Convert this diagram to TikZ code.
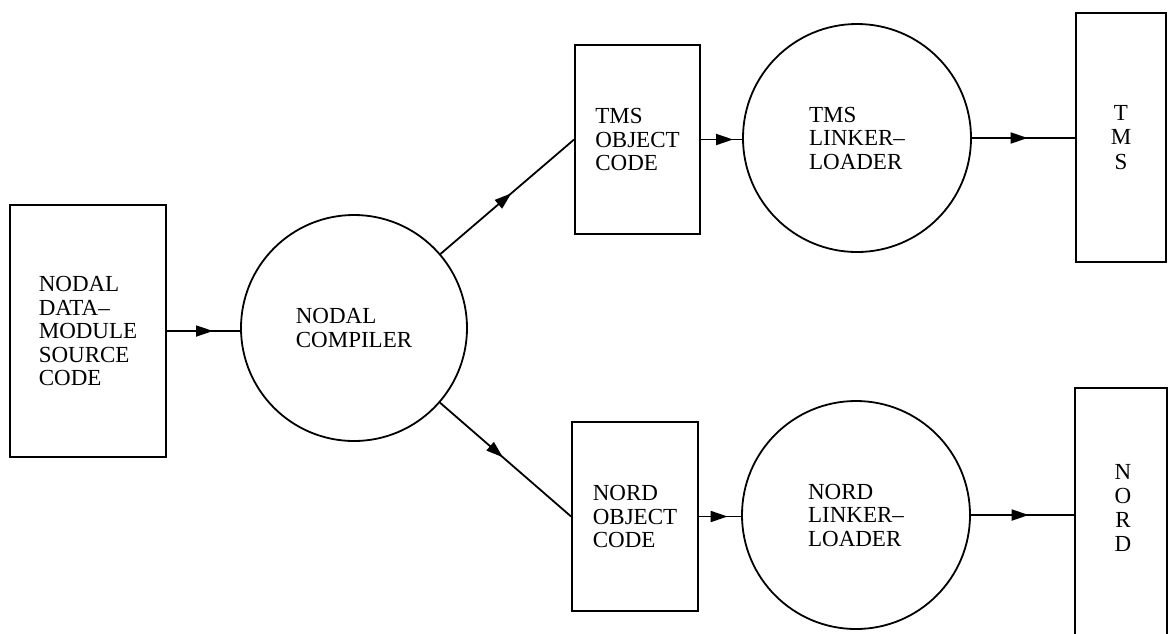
\documentclass[tikz,border=0pt]{standalone}
\usepackage{fontspec}
\setmainfont{Liberation Serif}
\usetikzlibrary{arrows.meta,decorations.markings}
\tikzset{
  box/.style={draw,line width=1.8pt,rectangle,inner sep=0pt},
  proc/.style={draw,line width=1.8pt,circle,inner sep=0pt},
  lbl/.style={align=left,font=\fontsize{23}{23.5}\selectfont},
  vlbl/.style={align=center,font=\fontsize{23}{24.3}\selectfont},
  conn/.style={line width=1.8pt},
  arr/.style={postaction={decorate},decoration={markings,
     mark=at position #1 with {\arrow{Triangle[length=17pt,width=11pt]}}}}
}
\begin{document}
\begin{tikzpicture}[x=1pt,y=-1pt]
\useasboundingbox (0,0) rectangle (1169,633);
\clip (0,0) rectangle (1169,633);
\node[box,minimum width=156pt,minimum height=252pt,lbl] (src) at (88,331)
  {NODAL\\DATA--\\MODULE\\SOURCE\\CODE};
\node[proc,minimum size=226pt,lbl] (comp) at (354,328) {NODAL\\COMPILER};
\node[box,minimum width=125pt,minimum height=189pt,lbl] (tmsobj) at (637.5,139.5)
  {TMS\\OBJECT\\CODE};
\node[proc,minimum size=228pt,lbl] (tmslink) at (857,138) {TMS\\LINKER--\\LOADER};
\node[box,minimum width=90pt,minimum height=249pt,vlbl] (tmsbox) at (1121,137.5)
  {T\\M\\S};
\node[box,minimum width=126pt,minimum height=189pt,lbl] (nordobj) at (635,516.5)
  {NORD\\OBJECT\\CODE};
\node[proc,minimum size=228pt,lbl] (nordlink) at (856,515) {NORD\\LINKER--\\LOADER};
\node[box,minimum width=92pt,minimum height=252pt] (nordbox) at (1121,514) {};
\node[vlbl] (nordtxt) at (1123,508) {N\\O\\R\\D};
\draw[conn,arr=0.63] (src.east) -- (src.east -| comp.west);
\draw[conn,arr=0.53] (comp) -- (tmsobj.west);
\draw[conn,arr=0.48] (comp) -- (nordobj.west);
\draw[conn,arr=0.78] (tmsobj.east) -- (tmsobj.east -| tmslink.west);
\draw[conn,arr=0.54] (tmslink.east) -- (tmslink.east -| tmsbox.west);
\draw[conn,arr=0.68] (nordobj.east) -- (nordobj.east -| nordlink.west);
\draw[conn,arr=0.56] (nordlink.east) -- (nordlink.east -| nordbox.west);
\end{tikzpicture}
\end{document}
